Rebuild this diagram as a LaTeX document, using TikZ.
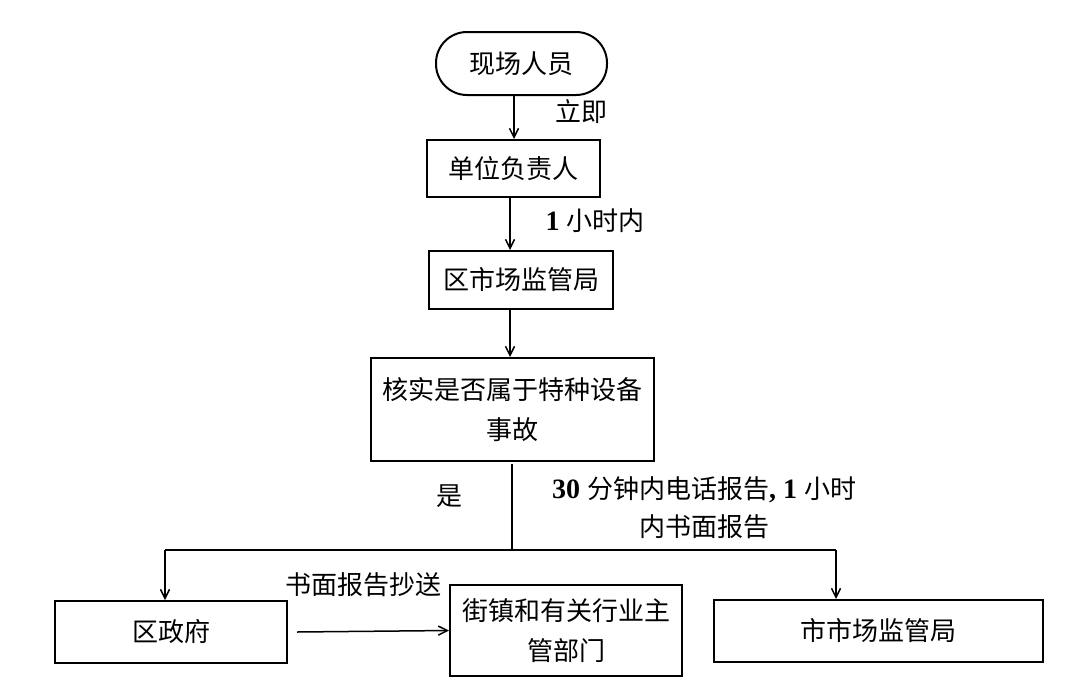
\documentclass[tikz,border=0pt]{standalone}
\usepackage{fontspec}
\setmainfont{Liberation Serif}
\newfontfamily\cjk{Noto Sans CJK SC}
\usetikzlibrary{arrows.meta}
\newcommand{\dg}[1]{{\rmfamily\bfseries\fontsize{28}{38}\selectfont #1}}
\begin{document}
\begin{tikzpicture}[x=1pt,y=-1pt,
  box/.style={draw=black,line width=2pt,inner sep=0pt,font=\cjk\fontsize{26}{40}\selectfont,align=center},
  arr/.style={line width=1.5pt,-{Straight Barb[length=9pt,width=9pt,line width=1.5pt]}},
  ln/.style={line width=1.5pt},
  lbl/.style={font=\cjk\fontsize{26}{38}\selectfont,inner sep=0pt,align=center}]
\useasboundingbox (0,0) rectangle (1075,688);
\node[box,rounded corners=31pt,minimum width=171pt,minimum height=63pt] (n0) at (521.5,63.5) {现场人员};
\node[box,minimum width=173pt,minimum height=57pt] (n1) at (513.5,168.5) {单位负责人};
\node[box,minimum width=184pt,minimum height=58pt] (n2) at (521,280) {区市场监管局};
\node[box,minimum width=283pt,minimum height=103pt] (n3) at (512.5,409.5) {核实是否属于特种设备\\事故};
\node[box,minimum width=232pt,minimum height=62pt] (n4) at (171,632) {区政府};
\node[box,minimum width=232pt,minimum height=91pt] (n5) at (566,630.5) {街镇和有关行业主\\管部门};
\node[box,minimum width=329pt,minimum height=62pt] (n6) at (878.5,631) {市市场监管局};
% labels
\node[lbl] (l1) at (581,112) {立即};
\node[lbl] (l2) at (595,221) {\dg{1 }小时内};
\node[lbl] (l3) at (449,496) {是};
\node[lbl] (l4) at (704,508) {\dg{30 }分钟内电话报告\dg{, 1 }小时\\内书面报告};
\node[lbl] (l5) at (363,585) {书面报告抄送};
% connectors
\draw[arr] ([xshift=-7.5pt]n0.south) -- ([xshift=-7.5pt]n0.south |- n1.north);
\draw[arr] ([xshift=-3.5pt]n1.south) -- ([xshift=-3.5pt]n1.south |- n2.north);
\draw[arr] ([xshift=-11pt]n2.south) -- ([xshift=-11pt]n2.south |- n3.north);
\coordinate (j) at (512,550);
\coordinate (jl) at (165,550);
\coordinate (jr) at (836,550);
\draw[ln] ([yshift=-1.5pt]n3.south -| j) -- (j);
\draw[ln] (jl) -- (jr);
\draw[arr] (jl) -- (jl |- n4.north);
\draw[arr] (jr) -- (jr |- n6.north);
\draw[arr] ([xshift=9pt]n4.east) -- (n5.west);
\end{tikzpicture}
\end{document}
